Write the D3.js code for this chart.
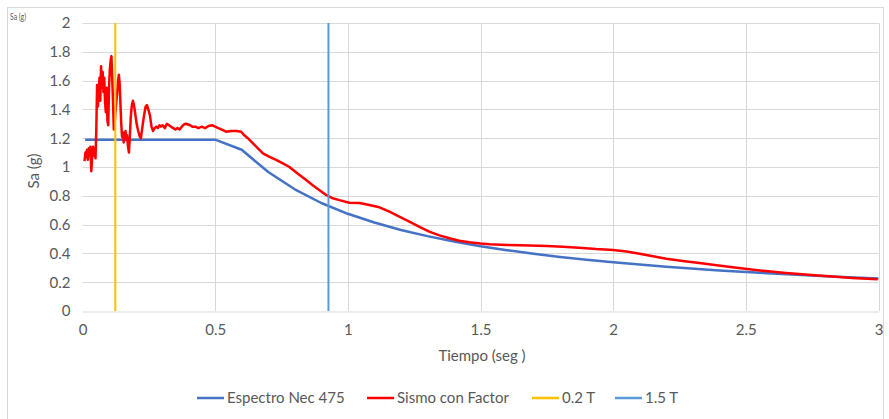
<!DOCTYPE html>
<html>
<head>
<meta charset="utf-8">
<script src="https://cdn.jsdelivr.net/npm/d3@7/dist/d3.min.js"></script>
<style>
  html, body { margin: 0; padding: 0; background: #fff; }
  svg { display: block; }
  text { font-family: Lato, "Open Sans", sans-serif; fill: #595959; }
</style>
</head>
<body>
<svg id="chart" width="889" height="419"></svg>
<script>
// Design spectrum (NEC) — period (s) and spectral acceleration (g)
const specT  = [0.01, 0.5, 0.6, 0.7, 0.8, 0.9, 1.0, 1.1, 1.2, 1.3, 1.4, 1.5, 1.6, 1.7, 1.8, 1.9, 2.0, 2.2, 2.4, 2.6, 2.8, 3.0];
const specSa = [1.19, 1.19, 1.12, 0.965, 0.845, 0.75, 0.675, 0.615, 0.563, 0.52, 0.483, 0.45, 0.422, 0.397, 0.375, 0.356, 0.338, 0.307, 0.282, 0.26, 0.242, 0.226];

// Scaled record spectrum
const sismoT = [0.0075, 0.011, 0.014, 0.017, 0.020, 0.024, 0.027, 0.030, 0.033, 0.036, 0.040, 0.043, 0.046, 0.049,
  0.052, 0.055, 0.058, 0.061, 0.064, 0.067, 0.070, 0.073, 0.076, 0.079, 0.082, 0.085, 0.088, 0.091, 0.094, 0.097,
  0.100, 0.103, 0.107, 0.109, 0.112, 0.115, 0.118, 0.121, 0.124, 0.127, 0.131, 0.134, 0.137, 0.140, 0.143, 0.146,
  0.149, 0.152, 0.155, 0.158, 0.162, 0.165, 0.168, 0.171, 0.175, 0.178, 0.182, 0.186, 0.190, 0.194, 0.198, 0.204,
  0.210, 0.216, 0.220, 0.226, 0.232, 0.238, 0.243, 0.248, 0.254, 0.260, 0.266, 0.272, 0.278, 0.284, 0.290, 0.296,
  0.302, 0.310, 0.318, 0.326, 0.334, 0.342, 0.350, 0.358, 0.366, 0.374, 0.382, 0.390, 0.398, 0.406, 0.414, 0.425,
  0.437, 0.450, 0.462, 0.475, 0.488, 0.500, 0.512, 0.525, 0.541, 0.560, 0.580, 0.598, 0.610, 0.623, 0.650, 0.680,
  0.705, 0.730, 0.755, 0.780, 0.800, 0.818, 0.843, 0.870, 0.900, 0.918, 0.940, 0.968, 1.006, 1.044, 1.081, 1.119,
  1.157, 1.194, 1.232, 1.270, 1.307, 1.345, 1.383, 1.420, 1.458, 1.500, 1.534, 1.600, 1.684, 1.750, 1.810, 1.870,
  1.936, 2.000, 2.050, 2.100, 2.150, 2.200, 2.262, 2.325, 2.390, 2.450, 2.513, 2.576, 2.640, 2.700, 2.760, 2.827,
  2.900, 2.997];
const sismoSa = [1.04, 1.10, 1.07, 1.12, 1.05, 1.13, 1.08, 1.14, 0.97, 1.06, 1.14, 1.08, 1.11, 1.06,
  1.26, 1.57, 1.42, 1.50, 1.62, 1.46, 1.70, 1.55, 1.66, 1.52, 1.62, 1.45, 1.38, 1.55, 1.32, 1.29,
  1.55, 1.68, 1.75, 1.77, 1.62, 1.45, 1.26, 1.30, 1.38, 1.44, 1.52, 1.60, 1.64, 1.58, 1.44, 1.30,
  1.21, 1.24, 1.17, 1.19, 1.25, 1.20, 1.22, 1.15, 1.10, 1.20, 1.35, 1.43, 1.46, 1.43, 1.38, 1.30,
  1.25, 1.21, 1.20, 1.28, 1.36, 1.42, 1.43, 1.40, 1.36, 1.28, 1.25, 1.27, 1.28, 1.27, 1.29, 1.28,
  1.29, 1.27, 1.30, 1.29, 1.28, 1.27, 1.26, 1.27, 1.26, 1.28, 1.295, 1.30, 1.295, 1.29, 1.28, 1.28,
  1.27, 1.28, 1.27, 1.285, 1.29, 1.28, 1.27, 1.26, 1.245, 1.25, 1.25, 1.245, 1.22, 1.20, 1.15, 1.095,
  1.07, 1.05, 1.025, 1.00, 0.97, 0.944, 0.91, 0.87, 0.83, 0.806, 0.785, 0.77, 0.752, 0.75, 0.736, 0.72,
  0.69, 0.655, 0.62, 0.585, 0.551, 0.525, 0.505, 0.488, 0.477, 0.468, 0.463, 0.458, 0.454, 0.452, 0.447, 0.44,
  0.43, 0.423, 0.413, 0.398, 0.38, 0.363, 0.348, 0.333, 0.318, 0.304, 0.29, 0.277, 0.266, 0.257, 0.248, 0.239,
  0.23, 0.22];

// Vertical reference periods: 0.2 T and 1.5 T
const refT = [0.1236, 0.927];
const refNames = ["0.2 T", "1.5 T"];

const xTicks = [0, 0.5, 1, 1.5, 2, 2.5, 3];
const yTicks = [0, 0.2, 0.4, 0.6, 0.8, 1, 1.2, 1.4, 1.6, 1.8, 2];
const seriesNames = ["Espectro Nec 475", "Sismo con Factor"];
const colors = ["#4472C4", "#FF0000", "#FFC000", "#5B9BD5"];

const svg = d3.select("#chart");
const x = d3.scaleLinear().domain([0, 3]).range([82.5, 878.5]);
const y = d3.scaleLinear().domain([0, 2]).range([311, 23]);

// chart frame
svg.append("rect").attr("x", 7.5).attr("y", 7.5).attr("width", 876).attr("height", 430)
  .attr("fill", "#fff").attr("stroke", "#d9d9d9").attr("stroke-width", 1);

// gridlines
svg.append("g").selectAll("line").data(yTicks.slice(1)).join("line")
  .attr("x1", x(0)).attr("x2", x(3))
  .attr("y1", d => Math.round(y(d)) + 0.5).attr("y2", d => Math.round(y(d)) + 0.5)
  .attr("stroke", "#d9d9d9").attr("stroke-width", 1);
svg.append("g").selectAll("line").data(xTicks.slice(1)).join("line")
  .attr("y1", y(0)).attr("y2", y(2))
  .attr("x1", d => Math.round(x(d)) + 0.5).attr("x2", d => Math.round(x(d)) + 0.5)
  .attr("stroke", "#d9d9d9").attr("stroke-width", 1);

// axes
const xAxis = svg.append("g").attr("transform", `translate(0,${Math.round(y(0)) + 0.5})`)
  .call(d3.axisBottom(x).tickValues(xTicks).tickSize(0).tickPadding(13).tickFormat(d3.format("~g")));
xAxis.select(".domain").attr("stroke", "#d9d9d9");
const yAxis = svg.append("g").attr("transform", `translate(${x(0)},0)`)
  .call(d3.axisLeft(y).tickValues(yTicks).tickSize(0).tickPadding(12).tickFormat(d3.format("~g")));
yAxis.select(".domain").remove();
svg.selectAll(".tick text").attr("font-family", "Lato, 'Open Sans', sans-serif")
  .attr("font-size", 15).attr("fill", "#595959");

// axis titles
svg.append("text").attr("x", 482).attr("y", 361).attr("text-anchor", "middle")
  .attr("font-size", 15).text("Tiempo (seg )");
svg.append("text").attr("transform", "translate(39,171) rotate(-90)").attr("text-anchor", "middle")
  .attr("font-size", 15).text("Sa (g)");
svg.append("text").attr("x", 10).attr("y", 20).attr("font-size", 9)
  .attr("font-family", "'Liberation Sans Narrow', 'DejaVu Sans Condensed', sans-serif")
  .attr("textLength", 16).attr("lengthAdjust", "spacingAndGlyphs").text("Sa (g)");

const line = d3.line().x(d => x(d[0])).y(d => y(d[1]));

// design spectrum
svg.append("path").datum(d3.zip(specT, specSa)).attr("d", line)
  .attr("fill", "none").attr("stroke", colors[0]).attr("stroke-width", 2.5).attr("stroke-linejoin", "round");

// record spectrum
svg.append("path").datum(d3.zip(sismoT, sismoSa)).attr("d", line)
  .attr("fill", "none").attr("stroke", colors[1]).attr("stroke-width", 2.5).attr("stroke-linejoin", "round");

// reference periods
svg.append("g").selectAll("line").data(refT).join("line")
  .attr("x1", d => x(d)).attr("x2", d => x(d)).attr("y1", y(0)).attr("y2", y(2))
  .attr("stroke", (d, i) => colors[2 + i]).attr("stroke-width", 2);

// legend
const legendItems = [
  { name: seriesNames[0], color: colors[0], x: 197 },
  { name: seriesNames[1], color: colors[1], x: 367 },
  { name: refNames[0], color: colors[2], x: 532 },
  { name: refNames[1], color: colors[3], x: 615 }
];
const lg = svg.append("g").selectAll("g").data(legendItems).join("g")
  .attr("transform", d => `translate(${d.x},398)`);
lg.append("line").attr("x1", 0).attr("x2", 27).attr("y1", 0).attr("y2", 0)
  .attr("stroke", d => d.color).attr("stroke-width", 2.5);
lg.append("text").attr("x", 30).attr("y", 5).attr("font-size", 15).text(d => d.name);
</script>
</body>
</html>
